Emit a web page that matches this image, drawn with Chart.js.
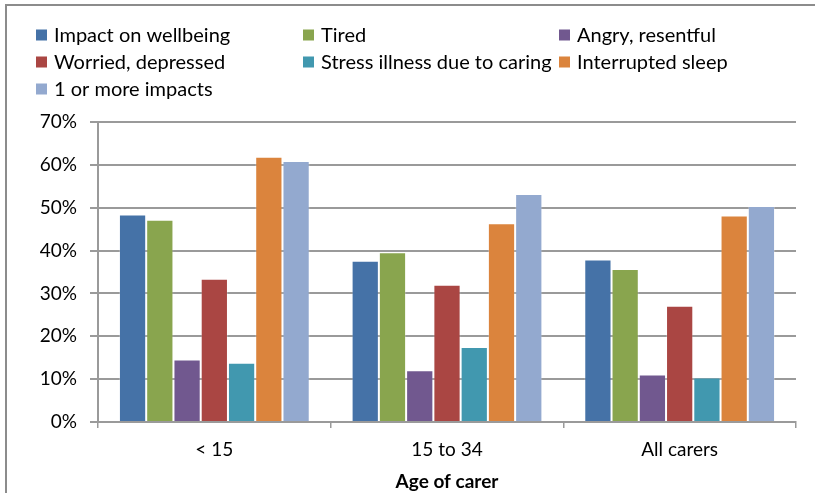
<!DOCTYPE html>
<html>
<head>
<meta charset="utf-8">
<script src="https://cdn.jsdelivr.net/npm/chart.js@4/dist/chart.umd.min.js"></script>
<style>
  html, body { margin: 0; padding: 0; background: #fff; }
  #wrap { position: relative; width: 815px; height: 493px; }
</style>
</head>
<body>
<div id="wrap"><canvas id="c" width="815" height="493"></canvas></div>
<script>
// Age groups of carers
const categories = ['< 15', '15 to 34', 'All carers'];

// Share of carers reporting each impact, in percent
const impactOnWellbeing   = [48.4, 37.6, 37.9];
const tired               = [47.2, 39.6, 35.7];
const angryResentful      = [14.6, 12.1, 11.1];
const worriedDepressed    = [33.4, 32.0, 27.1];
const stressIllness       = [13.8, 17.5, 10.4];
const interruptedSleep    = [61.9, 46.4, 48.2];
const oneOrMoreImpacts    = [60.9, 53.2, 50.4];

const seriesNames = [
  'Impact on wellbeing', 'Tired', 'Angry, resentful',
  'Worried, depressed', 'Stress illness due to caring', 'Interrupted sleep',
  '1 or more impacts'
];
const seriesValues = [
  impactOnWellbeing, tired, angryResentful,
  worriedDepressed, stressIllness, interruptedSleep, oneOrMoreImpacts
];
const seriesColors = ['#4572A7', '#89A54E', '#71588F', '#AA4643', '#4198AF', '#DB843D', '#93A9CF'];

// Y axis tick values
const yTicks = [0, 10, 20, 30, 40, 50, 60, 70];

const FONT = 'Lato, "Open Sans", sans-serif';
const GRID = '#9a9a9a';

// Three-column legend and the outer frame, drawn on the canvas
const frameAndLegend = {
  id: 'frameAndLegend',
  afterDraw(chart) {
    const ctx = chart.ctx;
    ctx.save();
    ctx.strokeStyle = '#8c8c8c';
    ctx.lineWidth = 2;
    ctx.strokeRect(6, 5, 900, 600);

    const colX = [36, 303, 559];
    const rowY = [35, 62, 89];
    ctx.font = '20px ' + FONT;
    ctx.textBaseline = 'middle';
    ctx.fillStyle = '#000';
    chart.data.datasets.forEach((ds, i) => {
      const x = colX[i % 3];
      const y = rowY[Math.floor(i / 3)];
      ctx.fillStyle = ds.backgroundColor;
      ctx.fillRect(x, y - 5.5, 11, 11);
      ctx.fillStyle = '#000';
      ctx.fillText(ds.label, x + 18, y + 1);
    });
    ctx.restore();
  }
};

new Chart(document.getElementById('c'), {
  type: 'bar',
  data: {
    labels: categories,
    datasets: seriesNames.map((name, i) => ({
      label: name,
      data: seriesValues[i],
      backgroundColor: seriesColors[i],
      borderColor: 'rgba(255,255,255,0.25)',
      borderWidth: 1,
      categoryPercentage: 0.82,
      barPercentage: 1.0
    }))
  },
  options: {
    responsive: false,
    animation: false,
    layout: { padding: { top: 122, right: 19, left: 0, bottom: 0 } },
    plugins: {
      legend: { display: false },
      tooltip: { enabled: false }
    },
    scales: {
      x: {
        grid: {
          display: true,
          drawOnChartArea: false,
          drawTicks: true,
          tickLength: 6,
          color: GRID,
          lineWidth: 1.5,
          offset: true
        },
        border: { display: true, color: GRID, width: 2 },
        ticks: { color: '#000', font: { family: FONT, size: 19 }, padding: 10 },
        title: {
          display: true,
          text: 'Age of carer',
          color: '#000',
          font: { family: FONT, size: 19, weight: 'bold' },
          padding: { top: 2, bottom: 0 }
        },
        afterFit(scale) { scale.height = 71; }
      },
      y: {
        min: 0,
        max: 70,
        afterBuildTicks(scale) { scale.ticks = yTicks.map(v => ({ value: v })); },
        grid: { color: GRID, lineWidth: 2, tickLength: 8, drawTicks: true },
        border: { display: true, color: GRID, width: 2 },
        ticks: {
          color: '#000',
          font: { family: FONT, size: 19 },
          padding: 13,
          callback: v => v + '%'
        },
        afterFit(scale) { scale.width = 98; }
      }
    }
  },
  plugins: [frameAndLegend]
});
</script>
</body>
</html>
